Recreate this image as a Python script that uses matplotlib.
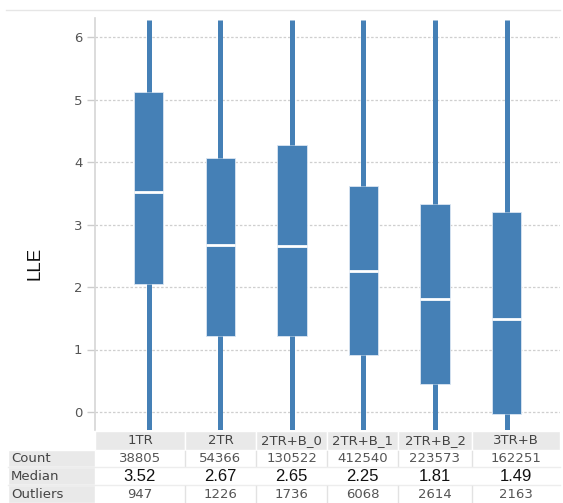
import matplotlib
matplotlib.use("Agg")
import matplotlib.pyplot as plt
from matplotlib.patches import Rectangle
from matplotlib.lines import Line2D

# Box plot summary per configuration
categories = ["1TR", "2TR", "2TR+B_0", "2TR+B_1", "2TR+B_2", "3TR+B"]
q1 = [2.05, 1.22, 1.22, 0.91, 0.45, -0.03]
medians = [3.52, 2.67, 2.65, 2.25, 1.81, 1.49]
q3 = [5.12, 4.07, 4.27, 3.62, 3.33, 3.20]
whisker_low = [-0.45, -0.45, -0.45, -0.45, -0.45, -0.45]
whisker_high = [6.27, 6.27, 6.27, 6.27, 6.27, 6.27]
counts = [38805, 54366, 130522, 412540, 223573, 162251]
outliers = [947, 1226, 1736, 6068, 2614, 2163]
yticks = [0, 1, 2, 3, 4, 5, 6]
row_labels = ["Count", "Median", "Outliers"]

W, H = 563, 503
BLUE = "#4580b6"
GRID = "#cfcfcf"
TXT = "#555555"

fig = plt.figure(figsize=(W / 100, H / 100), dpi=100)

def fx(px):
    return px / W

def fy(py):
    return 1 - py / H

ax_l, ax_r, ax_t, ax_b = 95, 560, 18, 430
ax = fig.add_axes([fx(ax_l), fy(ax_b), fx(ax_r - ax_l), (ax_b - ax_t) / H])

stats = []
for i, c in enumerate(categories):
    stats.append(dict(label=c, med=medians[i], q1=q1[i], q3=q3[i],
                      whislo=whisker_low[i], whishi=whisker_high[i], fliers=[]))

ax.bxp(stats, positions=range(len(categories)), widths=0.41, patch_artist=True,
       showcaps=False, showfliers=False,
       boxprops=dict(facecolor=BLUE, edgecolor="#dbe6f2", linewidth=0.6),
       medianprops=dict(color="white", linewidth=2.0),
       whiskerprops=dict(color=BLUE, linewidth=3.6, solid_capstyle="butt"))

ax.set_xlim(-0.75, 5.745)
ax.set_ylim((412 - ax_b) / 62.5, (412 - ax_t) / 62.5)
ax.set_yticks(yticks)
ax.set_yticklabels([str(t) for t in yticks], fontsize=9.5, color=TXT,
                   family="DejaVu Sans")
ax.set_xticks([])
ax.tick_params(axis="y", length=6, width=1, color="#cccccc", pad=3)
ax.yaxis.grid(True, linestyle=(0, (2, 1.5)), color=GRID, linewidth=0.9)
ax.set_axisbelow(True)
for side in ["top", "right", "bottom"]:
    ax.spines[side].set_visible(False)
ax.spines["left"].set_color("#d6d6d6")
ax.spines["left"].set_linewidth(1.2)

# Overlay in pixel coordinates for the title rule, label and summary table
ov = fig.add_axes([0, 0, 1, 1], zorder=-1)
ov.set_xlim(0, W)
ov.set_ylim(H, 0)
ov.axis("off")

ov.add_line(Line2D([6, 560], [10, 10], color="#e6e6e6", linewidth=1))

fig.text(fx(35), fy(263), "LLE", rotation=90, ha="center", va="center",
         fontsize=13.5, family="Liberation Sans", color="#111111")

col_edges = [95, 185, 256, 327, 398, 472, 560]
header = (431, 450)
rows = [(450, 467), (467, 485), (485, 503)]

ov2 = fig.add_axes([0, 0, 1, 1], zorder=5)
ov2.set_xlim(0, W)
ov2.set_ylim(H, 0)
ov2.axis("off")

# Header cells
for i in range(len(categories)):
    x0, x1 = col_edges[i], col_edges[i + 1]
    ov2.add_patch(Rectangle((x0, header[0]), x1 - x0, header[1] - header[0],
                            facecolor="#e9e9e9", edgecolor="white", linewidth=1))
    ov2.text((x0 + x1) / 2, (header[0] + header[1]) / 2 + 0.5, categories[i],
             ha="center", va="center", fontsize=9.5, color="#444444",
             family="DejaVu Sans")

# Row label cells
for r, (y0, y1) in enumerate(rows):
    ov2.add_patch(Rectangle((8, y0), 87, y1 - y0, facecolor="#e9e9e9",
                            edgecolor="white", linewidth=1))
    ov2.text(11, (y0 + y1) / 2 + 0.5, row_labels[r], ha="left", va="center",
             fontsize=9.5, color="#444444", family="DejaVu Sans")

# Value cells
row_values = [counts, medians, outliers]
for r, (y0, y1) in enumerate(rows):
    for i in range(len(categories)):
        x0, x1 = col_edges[i], col_edges[i + 1]
        if r != 1 and i > 0:
            ov2.add_line(Line2D([x0, x0], [y0 + 1, y1 - 1], color="#e2e2e2",
                                linewidth=1))
        v = row_values[r][i]
        if r == 1:
            ov2.text((x0 + x1) / 2, (y0 + y1) / 2 + 0.5, f"{v:.2f}",
                     ha="center", va="center", fontsize=12, color="#111111",
                     family="Liberation Sans")
        else:
            ov2.text((x0 + x1) / 2, (y0 + y1) / 2 + 0.5, str(v),
                     ha="center", va="center", fontsize=9.5, color="#555555",
                     family="DejaVu Sans")
    if r < 2:
        ov2.add_line(Line2D([8, 560], [y1, y1], color="#ededed", linewidth=1))

fig.savefig("out.png", dpi=100)
